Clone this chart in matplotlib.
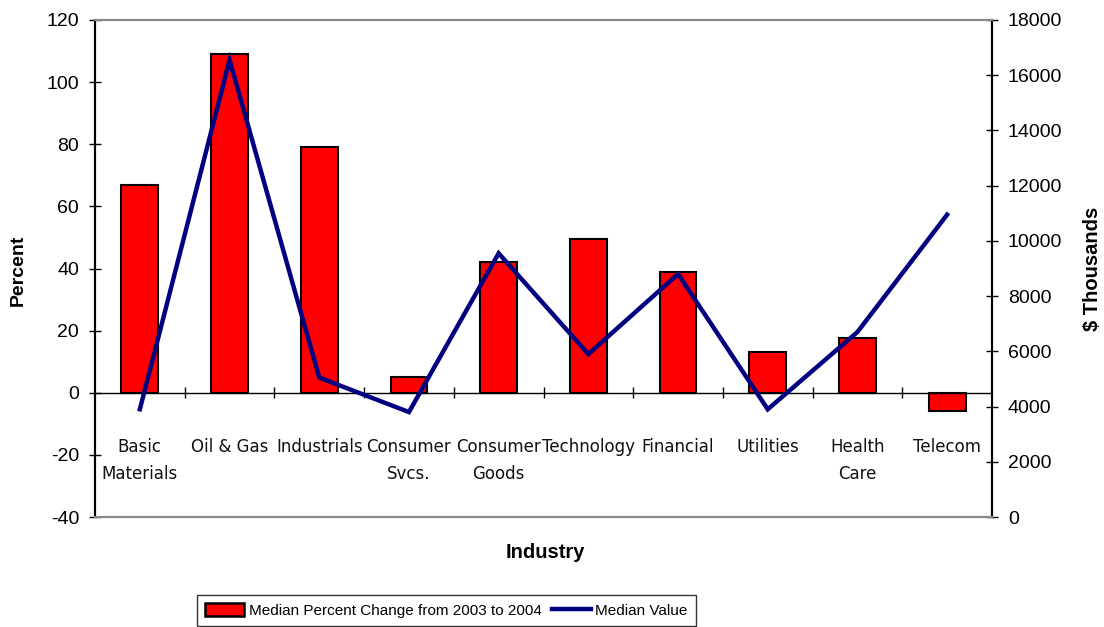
import matplotlib
matplotlib.use("Agg")
import matplotlib.pyplot as plt
import matplotlib.transforms as mtransforms
from matplotlib.patches import Patch
from matplotlib.lines import Line2D
import numpy as np

industries = ["Basic\nMaterials", "Oil & Gas", "Industrials", "Consumer\nSvcs.",
              "Consumer\nGoods", "Technology", "Financial", "Utilities",
              "Health\nCare", "Telecom"]
pct_change = [67, 109, 79, 5, 42, 49.5, 39, 13, 17.5, -6]
median_value = [3900, 16550, 5050, 3800, 9550, 5900, 8800, 3900, 6700, 10950]

left_ticks = [-40, -20, 0, 20, 40, 60, 80, 100, 120]
right_ticks = [0, 2000, 4000, 6000, 8000, 10000, 12000, 14000, 16000, 18000]

plt.rcParams["font.family"] = ["Liberation Sans", "DejaVu Sans"]

fig = plt.figure(figsize=(11.04, 6.27), dpi=100)
W, H = 1104, 627
x0, x1, y0, y1 = 95, 992, 20, 517
ax = fig.add_axes([x0 / W, 1 - y1 / H, (x1 - x0) / W, (y1 - y0) / H])
ax2 = ax.twinx()

x = np.arange(len(industries))
ax.bar(x, pct_change, width=0.41, color="#FF0000", edgecolor="black",
       linewidth=1.5, zorder=2)
ax.set_xlim(-0.5, len(industries) - 0.5)
ax.set_ylim(-40, 120)
ax.set_yticks(left_ticks)
ax.set_yticklabels([str(t) for t in left_ticks], fontsize=14)

# horizontal category axis crossing at zero
ax.axhline(0, color="black", linewidth=1.0, zorder=3)
bounds = np.arange(0.5, len(industries) - 0.5, 1.0)
ax.vlines(bounds, -1.8, 1.8, color="black", linewidth=1.0, zorder=3)
ax.set_xticks([])

trans = mtransforms.blended_transform_factory(ax.transData, ax.transAxes)
for xi, lab in zip(x, industries):
    for k, part in enumerate(lab.split("\n")):
        ax.text(xi, 0.1408 - k * 0.0543, part, transform=trans, ha="center",
                va="center", fontsize=12, fontfamily=["DejaVu Sans"],
                color="#111111")

ax2.plot(x, median_value, color="#000080", linewidth=3.2, zorder=4,
         solid_joinstyle="miter")
ax2.set_ylim(0, 18000)
ax2.set_yticks(right_ticks)
ax2.set_yticklabels([str(t) for t in right_ticks], fontsize=14)

ax.tick_params(axis="y", direction="inout", length=9, width=1.0, pad=7)
ax2.tick_params(axis="y", direction="inout", length=9, width=1.0, pad=7)
for a in (ax, ax2):
    a.spines["top"].set_color("#888888")
    a.spines["bottom"].set_color("#888888")
    for s in ("top", "bottom", "left", "right"):
        a.spines[s].set_linewidth(1.5)
ax.set_zorder(ax2.get_zorder() - 1)
ax2.patch.set_visible(False)

fig.text(18 / W, 1 - 270 / H, "Percent", rotation=90, ha="center", va="center",
         fontsize=14, fontweight="bold")
fig.text(1093 / W, 1 - 269 / H, "$ Thousands", rotation=90, ha="center",
         va="center", fontsize=14.5, fontweight="bold")
fig.text(545 / W, 1 - 553 / H, "Industry", ha="center", va="center",
         fontsize=14.5, fontweight="bold")

handles = [Patch(facecolor="#FF0000", edgecolor="black", linewidth=1.8),
           Line2D([0], [0], color="#000080", linewidth=3.2)]
labels = ["Median Percent Change from 2003 to 2004", "Median Value"]
leg = fig.legend(handles, labels, loc="upper left",
                 bbox_to_anchor=(197 / W, 1 - 595 / H), ncol=2, fontsize=11,
                 frameon=True, fancybox=False, borderpad=0.55,
                 handlelength=2.55, handleheight=0.85, handletextpad=0.3,
                 columnspacing=0.65, borderaxespad=0)
leg.get_frame().set_edgecolor("black")
leg.get_frame().set_linewidth(1.0)

fig.savefig("out.png", dpi=100)
